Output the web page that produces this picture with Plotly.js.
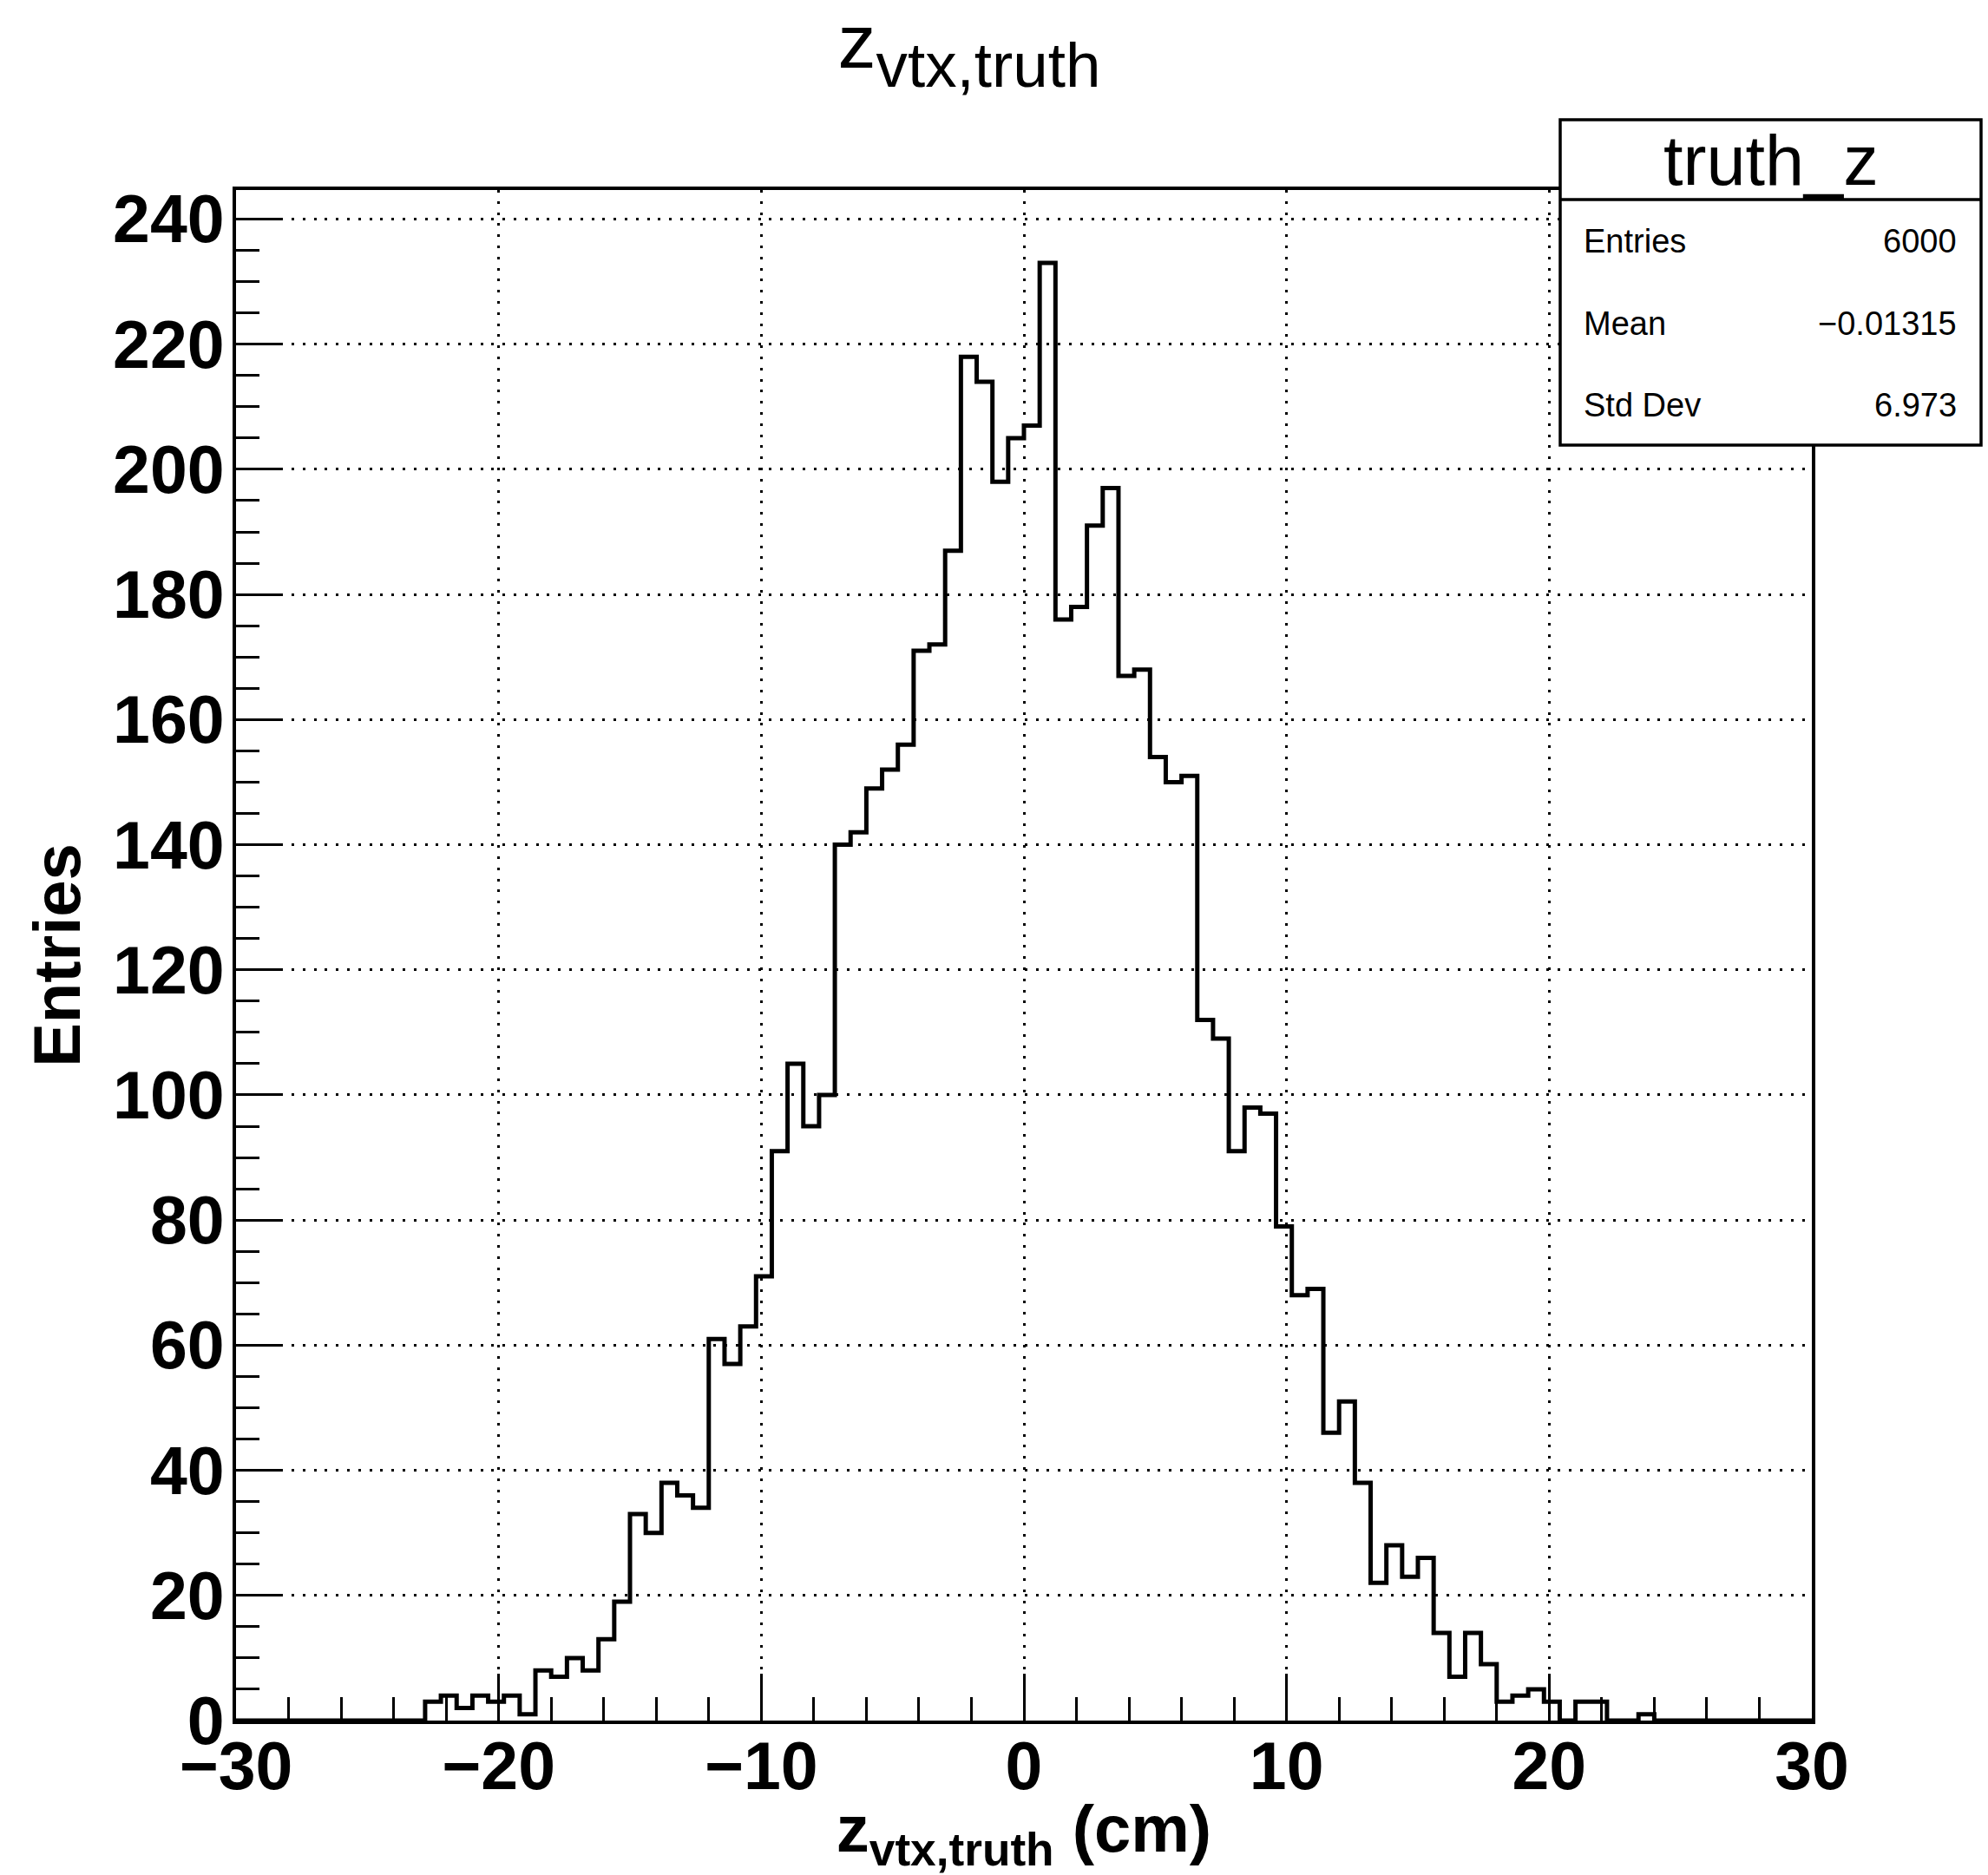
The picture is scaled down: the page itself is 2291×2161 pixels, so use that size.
<!DOCTYPE html>
<html>
<head>
<meta charset="utf-8">
<script src="https://cdn.plot.ly/plotly-3.0.1.min.js"></script>
<style>
  html, body { margin: 0; padding: 0; background: #ffffff; }
  #chart { width: 2291px; height: 2161px; }
</style>
</head>
<body>
<div id="chart"></div>
<script>
// ---- data ----
const binLow = -30;
const binHigh = 30;
const nBins = 100;
const counts = [
  0, 0, 0, 0, 0, 0, 0, 0, 0, 0, 0, 0,
  3, 4, 2, 4, 3, 4, 1, 8, 7, 10, 8, 13,
  19, 33, 30, 38, 36, 34, 61, 57, 63, 71,
  91, 105, 95, 100, 140, 142, 149, 152, 156, 171, 172, 187,
  218, 214, 198, 205, 207, 233, 176, 178, 191, 197, 167, 168,
  154, 150, 151, 112, 109, 91, 98, 97, 79, 68, 69, 46,
  51, 38, 22, 28, 23, 26, 14, 7, 14, 9, 3, 4, 5, 3, 0, 3, 3, 0, 0, 1,
  0, 0, 0, 0, 0, 0, 0, 0, 0, 0
];
const histName = "truth_z";
const statLabels = ["Entries", "Mean", "Std Dev"];
const statValues = ["6000", "\u22120.01315", "6.973"];
const xTitle = "z<sub>vtx,truth</sub> (cm)";
const yTitle = "Entries";

// ---- build step outline from bins ----
const binWidth = (binHigh - binLow) / nBins;
const xs = [];
const ys = [];
for (let k = 0; k < nBins; k++) {
  xs.push(binLow + k * binWidth);
  ys.push(counts[k]);
}
xs.push(binHigh);
ys.push(counts[nBins - 1]);
const yMax = Math.max.apply(null, counts) * 1.05;

const FONT = "Liberation Sans, Arial, Helvetica, sans-serif";

const trace = {
  type: "scatter",
  mode: "lines",
  x: xs,
  y: ys,
  line: { shape: "hv", color: "#000000", width: 5 },
  cliponaxis: false,
  hoverinfo: "skip",
  showlegend: false
};

const W = 2291, H = 2161;
const mL = 272, mR = 203, mT = 219, mB = 178;
const pw = W - mL - mR, ph = H - mT - mB;
function px2x(p) { return (p - mL) / pw; }
function py2y(p) { return (H - mB - p) / ph; }

const boxL = px2x(1798), boxR = px2x(2283);
const boxT = py2y(138), boxB = py2y(513), boxSep = py2y(230);
const rowY = [278, 373, 467];

const shapes = [
  { type: "rect", xref: "paper", yref: "paper", x0: boxL, x1: boxR, y0: boxB, y1: boxT,
    line: { color: "#000000", width: 3.5 }, fillcolor: "#ffffff", layer: "above" },
  { type: "line", xref: "paper", yref: "paper", x0: boxL, x1: boxR, y0: boxSep, y1: boxSep,
    line: { color: "#000000", width: 3.5 }, layer: "above" }
];

const annotations = [
  { xref: "paper", yref: "paper", x: (boxL + boxR) / 2, y: py2y(185), xanchor: "center", yanchor: "middle",
    text: histName, showarrow: false, font: { family: FONT, size: 81, color: "#000000" } }
];
for (let i = 0; i < statLabels.length; i++) {
  annotations.push({ xref: "paper", yref: "paper", x: px2x(1823), y: py2y(rowY[i]), xanchor: "left", yanchor: "middle",
    text: statLabels[i], showarrow: false, font: { family: FONT, size: 38, color: "#000000" } });
  annotations.push({ xref: "paper", yref: "paper", x: px2x(2257), y: py2y(rowY[i]), xanchor: "right", yanchor: "middle",
    text: statValues[i], showarrow: false, font: { family: FONT, size: 38, color: "#000000" } });
}

const axisCommon = {
  ticks: "inside",
  tickcolor: "#000000",
  tickwidth: 3,
  ticklen: 54,
  showline: true,
  linecolor: "#000000",
  linewidth: 4,
  mirror: true,
  showgrid: true,
  gridcolor: "#000000",
  gridwidth: 3,
  griddash: "3px,9.8px",
  zeroline: false,
  tickfont: { family: FONT, size: 77, color: "#000000", weight: "bold" },
  fixedrange: true
};

const layout = {
  width: W,
  height: H,
  margin: { l: mL, r: mR, t: mT, b: mB, pad: 0 },
  paper_bgcolor: "#ffffff",
  plot_bgcolor: "#ffffff",
  showlegend: false,
  title: {
    text: '<span style="font-size:88px">z</span><sub>vtx,truth</sub>',
    font: { family: FONT, size: 104, color: "#000000" },
    x: 1117 / W, xref: "container", xanchor: "center",
    y: 1 - 78 / H, yref: "container", yanchor: "bottom"
  },
  xaxis: Object.assign({}, axisCommon, {
    range: [binLow, binHigh],
    tick0: 0, dtick: 10,
    minor: { dtick: 2, ticks: "inside", ticklen: 27, tickwidth: 3, tickcolor: "#000000", showgrid: false },
    ticklabelstandoff: -17,
    title: { text: xTitle, font: { family: FONT, size: 76, color: "#000000", weight: "bold" }, standoff: 34 }
  }),
  yaxis: Object.assign({}, axisCommon, {
    range: [0, yMax],
    tick0: 0, dtick: 20,
    minor: { dtick: 5, ticks: "inside", ticklen: 27, tickwidth: 3, tickcolor: "#000000", showgrid: false },
    ticklabelstandoff: -6,
    title: { text: yTitle, font: { family: FONT, size: 76, color: "#000000", weight: "bold" }, standoff: 14 }
  }),
  shapes: shapes,
  annotations: annotations
};

Plotly.newPlot("chart", [trace], layout, { staticPlot: true, displayModeBar: false });
</script>
</body>
</html>
